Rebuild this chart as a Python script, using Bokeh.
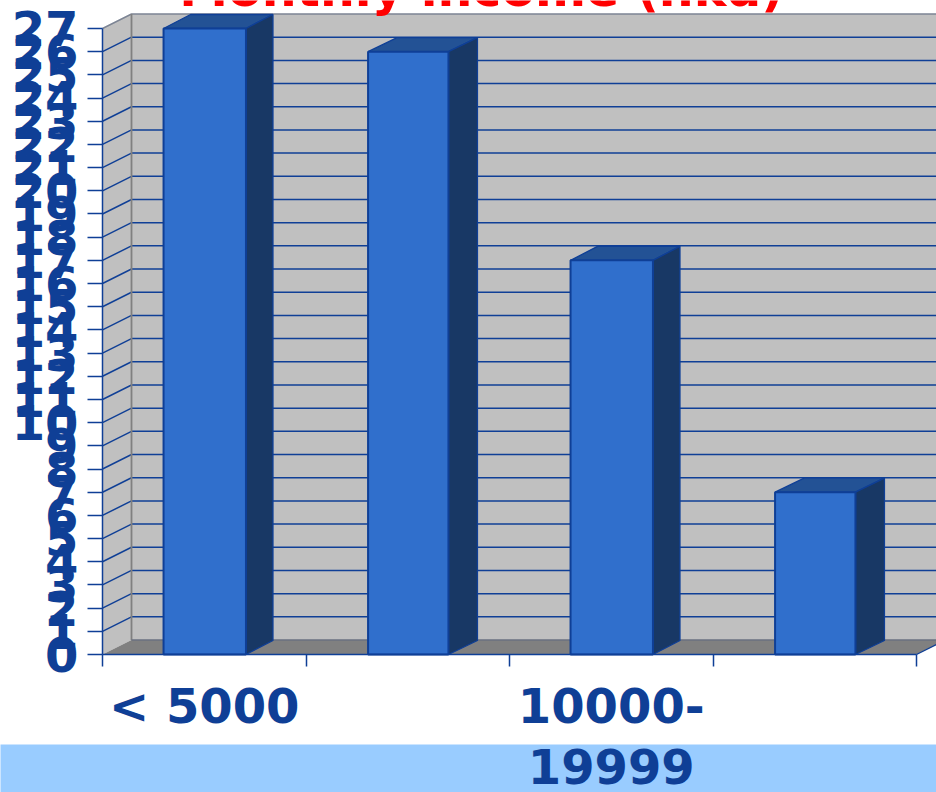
from bokeh.embed import file_html
from bokeh.resources import INLINE
from bokeh.plotting import figure
from bokeh.models import BoxAnnotation, FixedTicker, Label, LinearAxis, Range1d

# Chart content
title_text = "Monthly income (hkd)"
categories = ["< 5000", "5000-9999", "10000-19999", ">= 20000"]
first_line_labels = {0.5: "< 5000", 2.5: "10000-"}
second_line_labels = {2.5: "19999"}
values = [27, 26, 17, 7]
value_ticks = list(range(0, 28))

# Colours
BLUE = "#0F3F96"
FRONT = "#306FCC"
SIDE = "#183865"
TOP = "#235295"
WALL = "#C0C0C0"
FLOOR = "#808080"
EDGE = "#7C8494"
STRIP = "#99CCFF"
LABEL_FONT = "DejaVu Sans"

# Scale: one category is 203.5 px wide, one unit of value is 23.185 px tall.
W, H = 936, 792
X0, Y0 = 102, 654
CAT_PX, VAL_PX = 203.5, 23.185
DX = 29 / CAT_PX      # oblique depth of the chart box
DY = 14.5 / VAL_PX
BAR_DY = 14 / VAL_PX  # oblique depth of the bars
BAR_DX = [27 / CAT_PX, 29 / CAT_PX, 27 / CAT_PX, 29 / CAT_PX]
BAR_LEFT = [0.3, 1.305, 2.3, 3.305]
BAR_WIDTH = [0.405, 0.395, 0.405, 0.395]

p = figure(width=W, height=H, output_backend="svg", toolbar_location=None,
           x_range=Range1d(-X0 / CAT_PX, (W - X0) / CAT_PX),
           y_range=Range1d((Y0 - H) / VAL_PX, Y0 / VAL_PX),
           x_axis_location=None, y_axis_location=None,
           min_border=0, outline_line_color=None, background_fill_color="white")
p.grid.visible = False

# Pale strip along the foot of the page
p.add_layout(BoxAnnotation(left=-5, right=W + 5, top=48, bottom=-5,
                           left_units="screen", right_units="screen",
                           top_units="screen", bottom_units="screen",
                           fill_color=STRIP, fill_alpha=1, line_color=None,
                           level="underlay"))

n = len(categories)
top = value_ticks[-1]

# Chart box: back wall, left wall and floor
p.patch([DX, n + DX + 1, n + DX + 1, DX], [DY, DY, top + DY, top + DY],
        fill_color=WALL, line_color=None)
p.patch([0, DX, DX, 0], [0, DY, top + DY, top],
        fill_color=WALL, line_color=None)
p.patch([0, DX, n + DX, n], [0, DY, DY, 0], fill_color=FLOOR, line_color=None)

# Gridlines run across the left wall and along the back wall
grid = value_ticks[1:-1]
p.segment([0] * len(grid), grid, [DX] * len(grid), [v + DY for v in grid],
          line_color=BLUE, line_width=1.5)
p.segment([DX] * len(grid), [v + DY for v in grid],
          [n + DX + 1] * len(grid), [v + DY for v in grid],
          line_color=BLUE, line_width=1.5)

# Edges of the box
p.line([0, DX, n + DX + 1], [top, top + DY, top + DY], line_color=EDGE, line_width=1.5)
p.line([DX, DX], [DY, top + DY], line_color=FLOOR, line_width=1.8)
p.line([DX, n + DX + 1], [DY, DY], line_color="#6A7080", line_width=1.5)
p.line([n, n + DX], [0, DY], line_color=BLUE, line_width=1.3)

# Bars as three visible faces
for left, width, depth, v in zip(BAR_LEFT, BAR_WIDTH, BAR_DX, values):
    right = left + width
    p.patch([left, left + depth, right + depth, right],
            [v, v + BAR_DY, v + BAR_DY, v],
            fill_color=TOP, line_color=BLUE, line_width=1.3)
    p.patch([right, right + depth, right + depth, right],
            [0, BAR_DY, v + BAR_DY, v],
            fill_color=SIDE, line_color=BLUE, line_width=1.3)
    p.patch([left, right, right, left], [0, 0, v, v],
            fill_color=FRONT, line_color=BLUE, line_width=2)

# Value axis on the left edge of the box
y_axis = LinearAxis(fixed_location=0, bounds=(0, top),
                    ticker=FixedTicker(ticks=value_ticks),
                    axis_line_color=BLUE, axis_line_width=1.5,
                    major_tick_line_color=BLUE, major_tick_line_width=1.5,
                    major_tick_in=0, major_tick_out=15, minor_tick_line_color=None,
                    major_label_standoff=9,
                    major_label_text_font=LABEL_FONT,
                    major_label_text_font_style="bold",
                    major_label_text_font_size="48px",
                    major_label_text_color=BLUE)
p.add_layout(y_axis, "left")

# Category axis: ticks between categories, labels centred on them
x_axis = LinearAxis(fixed_location=0, bounds=(0, n),
                    ticker=FixedTicker(ticks=list(first_line_labels),
                                       minor_ticks=list(range(n + 1))),
                    major_label_overrides=first_line_labels,
                    axis_line_color=BLUE, axis_line_width=1.5,
                    major_tick_line_color=None,
                    major_tick_in=0, major_tick_out=0,
                    minor_tick_line_color=BLUE, minor_tick_line_width=1.5,
                    minor_tick_in=0, minor_tick_out=12,
                    major_label_standoff=11,
                    major_label_text_font=LABEL_FONT,
                    major_label_text_font_style="bold",
                    major_label_text_font_size="48px",
                    major_label_text_color=BLUE)
p.add_layout(x_axis, "below")

# The wrapped category label continues on a second row
x_axis_row2 = LinearAxis(fixed_location=0,
                         ticker=FixedTicker(ticks=list(second_line_labels)),
                         major_label_overrides=second_line_labels,
                         axis_line_color=None, major_tick_line_color=None,
                         minor_tick_line_color=None,
                         major_tick_in=0, major_tick_out=0,
                         major_label_standoff=94,
                         major_label_text_font=LABEL_FONT,
                         major_label_text_font_style="bold",
                         major_label_text_font_size="48px",
                         major_label_text_color=BLUE)
p.add_layout(x_axis_row2, "below")

# Title sits against the top of the page
p.add_layout(Label(x=(481 - X0) / CAT_PX, y=(Y0 + 11) / VAL_PX, text=title_text,
                   text_align="center", text_baseline="alphabetic",
                   text_font=LABEL_FONT, text_font_style="bold",
                   text_font_size="49px", text_color="#FF0000"))

open("out.html", "w").write(file_html(p, INLINE))
